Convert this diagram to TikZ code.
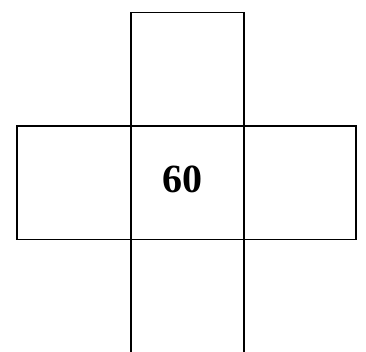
\documentclass[tikz,border=0pt]{standalone}
\usepackage{fontspec}
\setmainfont{Liberation Serif}[BoldFont={Liberation Serif Bold}]
\begin{document}
\begin{tikzpicture}[x=1pt,y=-1pt,
  cell/.style={draw=black,line width=1.8pt,rectangle,inner sep=0pt,outer sep=0pt},
  num/.style={font=\fontsize{40}{48}\selectfont\bfseries,inner sep=0pt}]
\useasboundingbox (0,0) rectangle (366,352);
\clip (0,0) rectangle (366,352);
\fill[white] (0,0) rectangle (366,352);
\node[cell,minimum width=113pt,minimum height=113.5pt] (top) at (187.5,69.25) {};
\node[cell,minimum width=114pt,minimum height=113.5pt] (left) at (74,182.75) {};
\node[cell,minimum width=113pt,minimum height=113.5pt] (center) at (187.5,182.75) {};
\node[cell,minimum width=112pt,minimum height=113.5pt] (right) at (300,182.75) {};
\node[cell,minimum width=113pt,minimum height=130pt] (bottom) at (187.5,304.5) {};
\node[num] (v) at (182,179.5) {60};
\end{tikzpicture}
\end{document}
